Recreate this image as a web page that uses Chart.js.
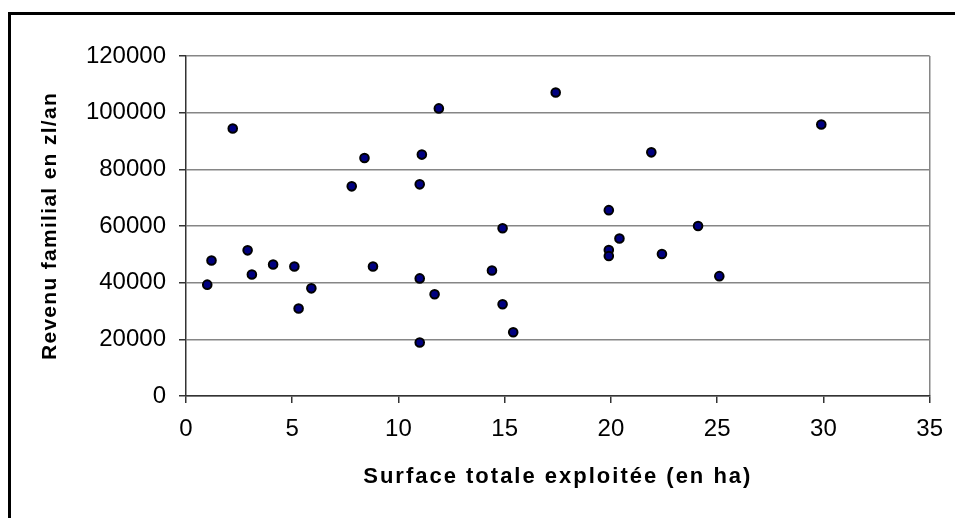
<!DOCTYPE html>
<html>
<head>
<meta charset="utf-8">
<script src="https://cdn.jsdelivr.net/npm/chart.js@4"></script>
<style>
    html, body { margin: 0; padding: 0; background: #fff; }
    #wrap { position: relative; width: 955px; height: 518px; overflow: hidden; }
    #frame { position: absolute; left: 8px; top: 12px; width: 960px; height: 520px;
             border-top: 3px solid #000; border-left: 3px solid #000; }
    canvas { position: absolute; left: 0; top: 0; }
</style>
</head>
<body>
<div id="wrap">
    <div id="frame"></div>
    <canvas id="scatter" width="955" height="518"></canvas>
</div>
<script>
// surface (ha) and family income (zl/an)
const surface = [1.0, 1.2, 2.2, 2.9, 3.1, 4.1, 5.1, 5.3, 5.9, 7.8, 8.4, 8.8,
    11.0, 11.0, 11.0, 11.1, 11.7, 11.9, 14.4, 14.9, 14.9, 15.4, 17.4,
    19.9, 19.9, 19.9, 20.4, 21.9, 22.4, 24.1, 25.1, 29.9];
const revenu = [39300, 47800, 94400, 51400, 42900, 46400, 45700, 30900, 38000, 74000, 84000, 45700,
    74700, 41500, 18900, 85200, 35900, 101500, 44300, 59200, 32400, 22500, 107100,
    65600, 51500, 49400, 55600, 86000, 50100, 60000, 42300, 95800];

const xTicks = [0, 5, 10, 15, 20, 25, 30, 35];
const yTicks = [0, 20000, 40000, 60000, 80000, 100000, 120000];

const xTitle = "Surface totale exploitée (en ha)";
const yTitle = "Revenu familial en zl/an";

document.addEventListener("DOMContentLoaded", () => {
    const ctx = document.getElementById("scatter").getContext("2d");
    const points = surface.map((x, i) => ({ x: x, y: revenu[i] }));
    const font = "'Liberation Sans', Arial, sans-serif";

    // spaced-out axis titles like the original
    const titleSpacing = { x: "2px", y: "1.3px" };
    const spacedTitles = {
        id: "spacedTitles",
        beforeDraw(chart) {
            Object.values(chart.scales).forEach(scale => {
                if (scale._spaced) return;
                const orig = scale.drawTitle;
                scale.drawTitle = function () {
                    this.ctx.save();
                    this.ctx.letterSpacing = titleSpacing[this.id] || "0px";
                    orig.call(this);
                    this.ctx.restore();
                };
                scale._spaced = true;
            });
        }
    };

    new Chart(ctx, {
        type: "scatter",
        data: {
            datasets: [{
                data: points,
                backgroundColor: "#000080",
                borderColor: "#000000",
                borderWidth: 2,
                pointRadius: 4.3,
                pointHoverRadius: 4.3
            }]
        },
        options: {
            responsive: false,
            animation: false,
            events: [],
            layout: { padding: { left: 0, top: 56, right: 21, bottom: 0 } },
            plugins: { legend: { display: false }, tooltip: { enabled: false } },
            scales: {
                x: {
                    type: "linear",
                    min: xTicks[0],
                    max: xTicks[xTicks.length - 1],
                    afterBuildTicks: s => { s.ticks = xTicks.map(v => ({ value: v })); },
                    afterFit: s => { s.height = 122; },
                    grid: {
                        color: c => c.tick && c.tick.value === 35 ? "#868686" : "transparent",
                        lineWidth: 1.5,
                        tickLength: 7,
                        tickColor: "#333333",
                        tickWidth: 1.5
                    },
                    border: { color: "#333333", width: 1.5 },
                    ticks: {
                        color: "#000",
                        font: { family: font, size: 24 },
                        padding: 12,
                        maxRotation: 0
                    },
                    title: {
                        display: true,
                        text: xTitle,
                        color: "#000",
                        font: { family: font, size: 22, weight: "bold" },
                        padding: { top: 0, bottom: 28 }
                    }
                },
                y: {
                    min: yTicks[0],
                    max: yTicks[yTicks.length - 1],
                    afterBuildTicks: s => { s.ticks = yTicks.map(v => ({ value: v })); },
                    afterFit: s => { s.width = 186; },
                    grid: {
                        color: "#868686",
                        lineWidth: 1.5,
                        tickLength: 7,
                        tickColor: "#333333",
                        tickWidth: 1.5
                    },
                    border: { color: "#333333", width: 1.5 },
                    ticks: {
                        color: "#000",
                        font: { family: font, size: 24 },
                        padding: 13,
                        callback: v => String(v)
                    },
                    title: {
                        display: true,
                        text: yTitle,
                        color: "#000",
                        font: { family: font, size: 21, weight: "bold" },
                        padding: { top: 38, bottom: 0 }
                    }
                }
            }
        },
        plugins: [spacedTitles]
    });
});
</script>
</body>
</html>
